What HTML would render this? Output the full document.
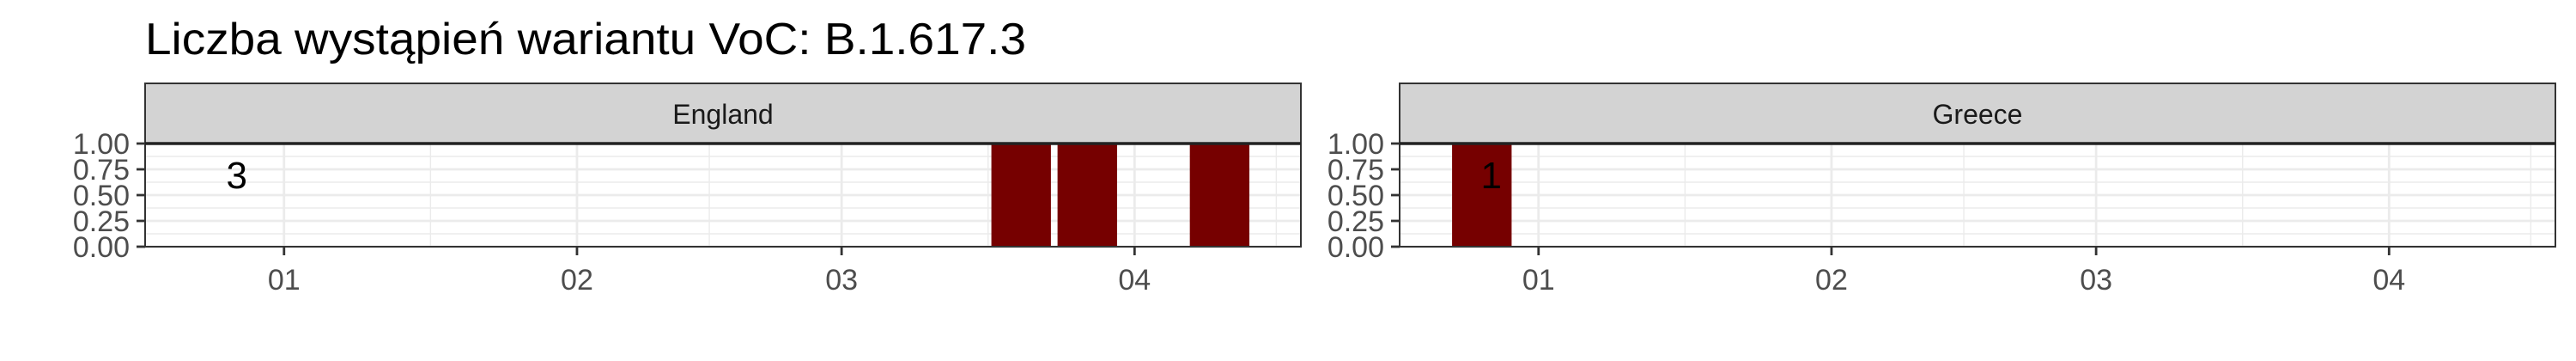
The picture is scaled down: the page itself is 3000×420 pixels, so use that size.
<!DOCTYPE html>
<html><head><meta charset="utf-8">
<style>
html,body{margin:0;padding:0;background:#fff;}
svg{display:block;font-family:"Liberation Sans",Arial,sans-serif;}
</style></head>
<body>
<svg id="chart" width="3000" height="420" viewBox="0 0 3000 420" xmlns="http://www.w3.org/2000/svg">
<text x="169" y="63" font-size="52" fill="#000" textLength="1026" lengthAdjust="spacingAndGlyphs">Liczba wystąpień wariantu VoC: B.1.617.3</text>
</svg>
<script>
const panels = ["England", "Greece"];
const englandDates = ["2021-03-20", "2021-03-27", "2021-04-10"];
const englandValues = [1, 1, 1];
const greeceDates = ["2020-12-26"];
const greeceValues = [1];
const totalLabels = ["3", "1"];
const labelDates = ["2020-12-27", "2020-12-27"];
const labelValue = 0.7;
const yTicks = [0, 0.25, 0.5, 0.75, 1];
const yTickLabels = ["0.00", "0.25", "0.50", "0.75", "1.00"];
const xTickDates = ["2021-01-01", "2021-02-01", "2021-03-01", "2021-04-01"];
const xTickLabels = ["01", "02", "03", "04"];
const xMinorDates = ["2021-01-16T12:00", "2021-02-15", "2021-03-16T12:00", "2021-04-16"];

const NS = "http://www.w3.org/2000/svg";
const svg = document.getElementById("chart");
const DAY = 86400000;
const t = s => new Date(s + (s.length === 10 ? "T00:00Z" : "Z")).getTime();
const domStart = t("2021-01-01") - 14.7 * DAY;
const domEnd = t("2021-04-01") + 17.6 * DAY;
const panelX = [169, 1630], panelW = 1346;
const stripTop = 97, yTop = 167, yBottom = 287;
const barColor = "#760000";
function el(tag, attrs, parent) {
  const e = document.createElementNS(NS, tag);
  for (const k in attrs) e.setAttribute(k, attrs[k]);
  (parent || svg).appendChild(e);
  return e;
}
const yScale = v => yBottom - v * (yBottom - yTop);
const series = [[englandDates, englandValues], [greeceDates, greeceValues]];

panels.forEach((name, p) => {
  const x0 = panelX[p];
  const x = d => x0 + (t(d) - domStart) / (domEnd - domStart) * panelW;
  const g = el("g", {});
  
  
  const bg = el("rect", {x: x0, y: yTop, width: panelW, height: yBottom - yTop, fill: "#fff"}, g);
  
  
  for (let i = 0; i < yTicks.length - 1; i++) {
    const v = (yTicks[i] + yTicks[i + 1]) / 2;
    const l = el("line", {x1: x0, x2: x0 + panelW, y1: yScale(v), y2: yScale(v), stroke: "#ebebeb", "stroke-width": 1.4}, g);
    
    
  }
  xMinorDates.forEach(d => {
    const l = el("line", {x1: x(d), x2: x(d), y1: yTop, y2: yBottom, stroke: "#ebebeb", "stroke-width": 1.4}, g);
    
    
  });
  yTicks.forEach((v, i) => {
    const l = el("line", {x1: x0, x2: x0 + panelW, y1: yScale(v), y2: yScale(v), stroke: "#ebebeb", "stroke-width": 2.8}, g);
    
    
    const tk = el("line", {x1: x0 - 10, x2: x0, y1: yScale(v), y2: yScale(v), stroke: "#333", "stroke-width": 2.8}, g);
    
    
    const tx = el("text", {x: x0 - 18, y: yScale(v) + 12, "font-size": 34, fill: "#4d4d4d", "text-anchor": "end"}, g);
    
    
    tx.textContent = yTickLabels[i];
  });
  xTickDates.forEach((d, i) => {
    const l = el("line", {x1: x(d), x2: x(d), y1: yTop, y2: yBottom, stroke: "#ebebeb", "stroke-width": 2.8}, g);
    
    
    const tk = el("line", {x1: x(d), x2: x(d), y1: yBottom, y2: yBottom + 10, stroke: "#333", "stroke-width": 2.8}, g);
    
    
    const tx = el("text", {x: x(d), y: yBottom + 50, "font-size": 34, fill: "#4d4d4d", "text-anchor": "middle"}, g);
    
    
    tx.textContent = xTickLabels[i];
  });
  const [dates, vals] = series[p];
  dates.forEach((d, i) => {
    const c = t(d), half = 0.45 * 7 * DAY;
    const xa = x0 + (c - half - domStart) / (domEnd - domStart) * panelW;
    const xb = x0 + (c + half - domStart) / (domEnd - domStart) * panelW;
    const r = el("rect", {x: xa, y: yScale(vals[i]), width: xb - xa, height: yBottom - yScale(vals[i]), fill: barColor}, g);
    
    
  });
  const lb = el("text", {x: x(labelDates[p]), y: yScale(labelValue) + 16, "font-size": 44, fill: "#000", "text-anchor": "middle"}, g);
  
  
  lb.textContent = totalLabels[p];
  const bd = el("rect", {x: x0, y: yTop, width: panelW, height: yBottom - yTop, fill: "none", stroke: "#333", "stroke-width": 2}, g);
  
  
  const st = el("rect", {x: x0, y: stripTop, width: panelW, height: yTop - stripTop, fill: "#d3d3d3", stroke: "#333", "stroke-width": 2}, g);
  
  
  const sl = el("line", {x1: x0, x2: x0 + panelW, y1: yTop, y2: yTop, stroke: "#222", "stroke-width": 3.5}, g);
  
  
  const stx = el("text", {x: x0 + panelW / 2, y: stripTop + 47, "font-size": 32, fill: "#1a1a1a", "text-anchor": "middle"}, g);
  
  
  stx.textContent = name;
});
</script>
</body></html>
